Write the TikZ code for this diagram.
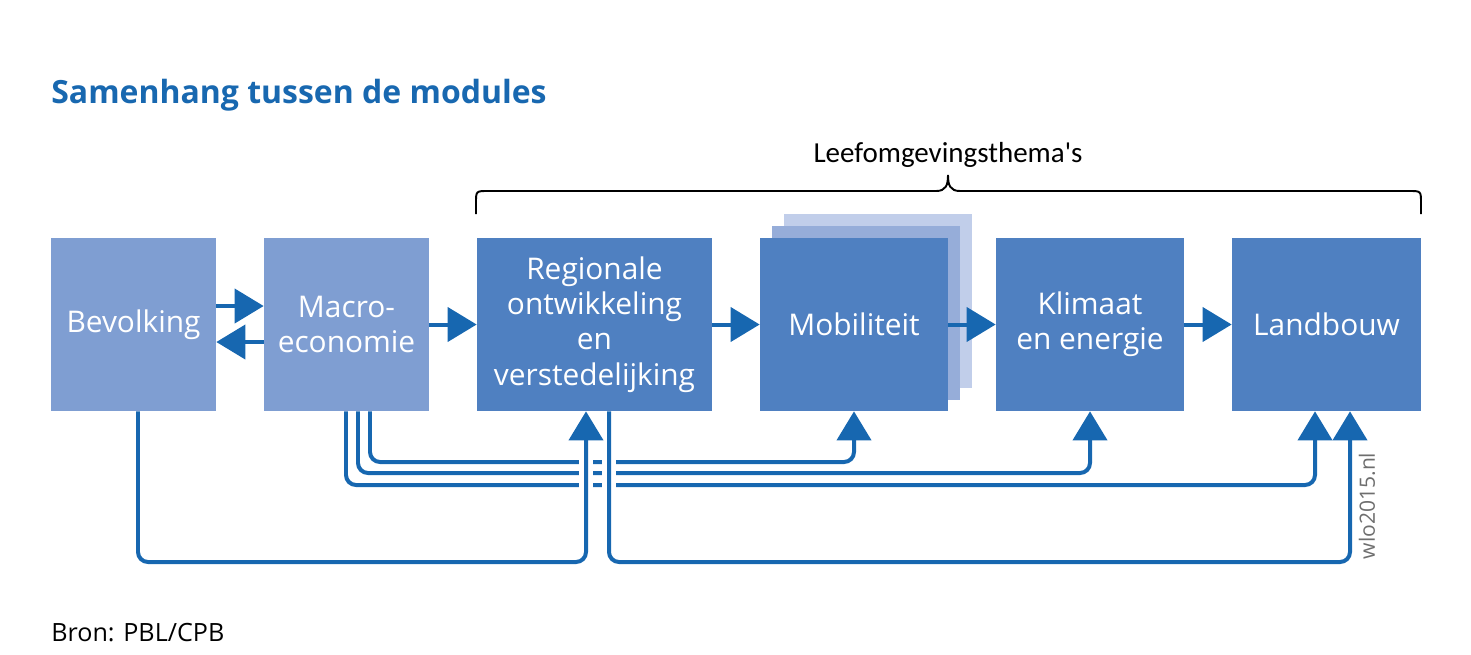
\documentclass[tikz,border=0pt]{standalone}
\usepackage{fontspec}
\setmainfont{Open Sans}
\newfontfamily\calfont{Carlito}
\usetikzlibrary{arrows.meta}
\definecolor{lightbox}{HTML}{7F9ED2}
\definecolor{darkbox}{HTML}{4F80C1}
\definecolor{layertwo}{HTML}{96ADD9}
\definecolor{layerthree}{HTML}{C1CEEA}
\definecolor{arrowblue}{HTML}{1767B0}
\definecolor{titleblue}{HTML}{1868B0}
\definecolor{wlogrey}{HTML}{6E6E6E}
\tikzset{
  box/.style={minimum height=3.46cm, inner sep=0pt, text=white, align=center,
    font=\fontsize{17}{20.1}\selectfont},
  lbox/.style={box, fill=lightbox},
  dbox/.style={box, fill=darkbox},
  conn/.style={draw=arrowblue, line width=2.27pt,
    -{Triangle[length=0.58cm,width=0.68cm]}},
  roundbend/.style={rounded corners=0.2cm},
  halo/.style={draw=white, line width=0.27cm},
}
\begin{document}
\begin{tikzpicture}[x=0.02cm,y=-0.02cm]
\useasboundingbox (0,0) rectangle (1471,654);

% title
\node[anchor=base west, inner sep=0pt, text=titleblue,
  font=\fontsize{18.2}{22}\selectfont\bfseries] (title) at (51,103) {Samenhang tussen de modules};

% brace + label
\node[anchor=base, inner sep=0pt, font=\calfont\fontsize{16.5}{19}\selectfont] (theme) at (948,162) {Leefomgevingsthema's};
\draw[line width=1.1pt, black]
  (476,214) -- (476,203) .. controls (476,191) .. (488,191) -- (936,191)
  .. controls (946,191) and (948,185) .. (948,175)
  .. controls (948,185) and (950,191) .. (960,191) -- (1409,191)
  .. controls (1421,191) .. (1421,203) -- (1421,214);

% mobiliteit stacked layers
\fill[layerthree] (784,214) rectangle (972,388);
\fill[layertwo] (772,226) rectangle (960,400);

% boxes
\node[lbox, minimum width=3.3cm] (bev) at (133.5,324.5) {Bevolking};
\node[lbox, minimum width=3.3cm] (mac) at (346.5,324.5) {Macro-\\economie};
\node[dbox, minimum width=4.7cm] (reg) at (594.5,324.5) {Regionale\\ontwikkeling\\en\\verstedelijking};
\node[dbox, minimum width=3.76cm] (mob) at (854,324.5) {Mobiliteit};
\node[dbox, minimum width=3.76cm] (kli) at (1090,324.5) {Klimaat\\en energie};
\node[dbox, minimum width=3.78cm] (lan) at (1326.5,324.5) {Landbouw};

% horizontal arrows
\draw[conn] (bev.east |- 0,306) -- (mac.west |- 0,306);
\draw[conn] (mac.west |- 0,342) -- (bev.east |- 0,342);
\draw[conn] (mac.east) -- (reg.west);
\draw[conn] (reg.east) -- (mob.west);
\draw[conn] (mob.east) -- (kli.west);
\draw[conn] (kli.east) -- (lan.west);

% macro-economie feeds
\draw[conn, roundbend] (mac.south -| 346,0) |- (1315,485) -- (lan.south -| 1315,0);
\draw[conn, roundbend] (mac.south -| 358,0) |- (1090,473) -- (kli.south);
\draw[conn, roundbend] (mac.south -| 370,0) |- (854,462) -- (mob.south);

% gaps where lines cross
\draw[halo] (586,448) -- (586,498);
\draw[halo] (609,448) -- (609,498);

% bevolking -> regionale, regionale -> landbouw
\draw[conn, roundbend] (bev.south -| 138,0) |- (586,562) -- (reg.south -| 586,0);
\draw[conn, roundbend] (reg.south -| 609,0) |- (1350,562) -- (lan.south -| 1350,0);

% source + site
\node[rotate=90, inner sep=0pt, text=wlogrey, font=\fontsize{12}{14}\selectfont] (wlo) at (1367,506) {wlo2015.nl};
\node[anchor=base west, inner sep=0pt, font=\fontsize{14.3}{17}\selectfont] (bron) at (51,641) {Bron: PBL/CPB};
\end{tikzpicture}
\end{document}
